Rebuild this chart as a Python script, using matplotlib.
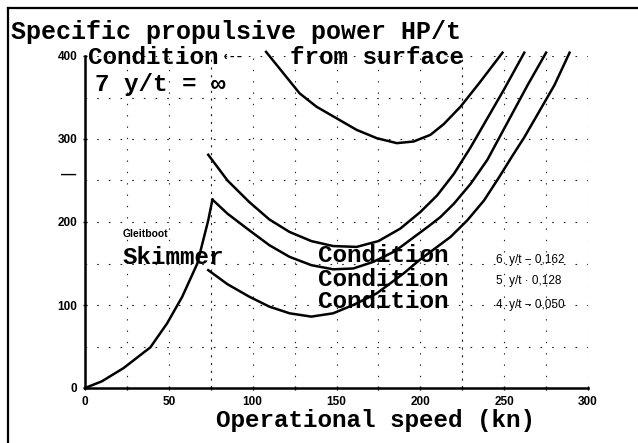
import matplotlib
matplotlib.use('Agg')
import matplotlib.pyplot as plt
from matplotlib.lines import Line2D
import numpy as np

W, H = 638, 443

# --- data ---
skimmer_x = [0, 10, 23, 39, 49, 58, 67, 73.5, 76]
skimmer_y = [0, 8, 24, 49, 78, 110, 150, 202, 227]

cond7_x = [108, 118, 128, 138, 150, 162, 174, 186, 196, 206, 214, 224, 235, 249]
cond7_y = [405, 380, 355, 339, 325, 311, 301, 295, 297, 305, 318, 339, 367, 404]

cond6_x = [73.5, 85, 98, 110, 122, 135, 148, 162, 175, 188, 200, 210, 220, 230, 240, 250, 262]
cond6_y = [281, 250, 224, 203, 188, 177, 171, 170, 177, 192, 212, 232, 258, 290, 325, 360, 404]

cond5_x = [76, 85, 98, 110, 122, 135, 148, 160, 172, 185, 195, 205, 212, 220, 230, 240, 248, 256, 264, 275]
cond5_y = [227, 210, 190, 172, 158, 148, 143, 144, 152, 165, 180, 195, 206, 222, 246, 275, 305, 335, 365, 404]

cond4_x = [73.5, 85, 98, 110, 122, 135, 148, 160, 174, 190, 200, 210, 218, 228, 238, 247, 255, 262, 270, 280, 289]
cond4_y = [142, 125, 110, 98, 90, 86, 90, 100, 114, 138, 155, 170, 182, 202, 226, 254, 280, 302, 330, 365, 404]

x_ticks = [0, 50, 100, 150, 200, 250, 300]
x_ticklabels = ['0', '50', '100', '150', '200', '250', '300']
y_ticks = [0, 100, 200, 300, 400]
y_ticklabels = ['0', '100', '200', '300', '400']

cond_labels = ['6  y/t \u2212 0,162', '5  y/t \u00b7 0,128', '4  y/t \u2212 0,050']

MONO = ['Liberation Mono', 'DejaVu Sans Mono']
SANS = ['Liberation Sans', 'DejaVu Sans']


def fx(px):
    return px / W


def fy(py):
    return 1 - py / H


fig = plt.figure(figsize=(W / 100, H / 100), dpi=100)
fig.patch.set_facecolor('white')

ax = fig.add_axes([fx(85), fy(388), (588 - 85) / W, (388 - 56) / H])
ax.set_xlim(0, 300)
ax.set_ylim(0, 400)

# grid (sparse dotted)
for gx in range(25, 301, 25):
    ls = (0, (2, 5)) if gx in (75, 225) else (0, (1.2, 9))
    ax.plot([gx, gx], [0, 400], color='#222222', lw=0.8, ls=ls, zorder=1)
for gy in range(50, 401, 50):
    ax.plot([0, 300], [gy, gy], color='#222222', lw=0.8, ls=(0, (1.5, 9)), zorder=1)

for s in ['top', 'right']:
    ax.spines[s].set_visible(False)
for s in ['left', 'bottom']:
    ax.spines[s].set_linewidth(1.8)

lw = 1.8
ax.plot(skimmer_x, skimmer_y, color='black', lw=lw, clip_on=False, zorder=3)
ax.plot(cond7_x, cond7_y, color='black', lw=lw, clip_on=False, zorder=3)
ax.plot(cond6_x, cond6_y, color='black', lw=lw, clip_on=False, zorder=3)
ax.plot(cond5_x, cond5_y, color='black', lw=lw, clip_on=False, zorder=3)
ax.plot(cond4_x, cond4_y, color='black', lw=lw, clip_on=False, zorder=3)

ax.set_xticks(x_ticks)
ax.set_xticklabels(x_ticklabels, family=SANS, fontsize=8.5, fontweight='bold')
ax.set_yticks(y_ticks)
ax.set_yticklabels(y_ticklabels, family=SANS, fontsize=8.5, fontweight='bold')
ax.tick_params(axis='both', length=3, width=1, direction='inout', pad=4)
ax.set_xticks(range(25, 300, 50), minor=True)
ax.tick_params(axis='x', which='minor', length=3, width=1, direction='inout')
ax.text(-5, 257, '\u2014', ha='right', va='center', fontsize=11, fontweight='bold',
        family=SANS)

# texts
tk = dict(family=MONO, fontweight='bold', color='black', va='center', ha='left')
fig.text(fx(11), fy(32), 'Specific propulsive power HP/t', fontsize=18, **tk)
fig.text(fx(88), fy(58), 'Condition', fontsize=17.5, **tk)
fig.text(fx(222), fy(57), '\u2039--', fontsize=9, **tk)
fig.text(fx(290), fy(58), 'from surface', fontsize=17.5, **tk)
fig.text(fx(95), fy(84), '7 y/t = \u221e', fontsize=17.5, **tk)
fig.text(fx(123), fy(257), 'Skimmer', fontsize=17.5, **tk)
fig.text(fx(318), fy(256), 'Condition', fontsize=17.5, **tk)
fig.text(fx(318), fy(280), 'Condition', fontsize=17.5, **tk)
fig.text(fx(318), fy(301), 'Condition', fontsize=17.5, **tk)
fig.text(fx(123), fy(234), 'Gleitboot', fontsize=7.5, family=SANS, fontweight='bold',
         va='center', ha='left')
for i, lab in enumerate(cond_labels):
    fig.text(fx(496), fy([260, 281, 305][i]), lab, fontsize=8.5, family=SANS,
             va='center', ha='left')
fig.text(fx(375), fy(421), 'Operational speed (kn)', fontsize=17.5, family=MONO,
         fontweight='bold', va='center', ha='center')

# outer scan border
fig.add_artist(Line2D([fx(8), fx(8)], [fy(8), 0], color='black', lw=1.6,
                      transform=fig.transFigure))
fig.add_artist(Line2D([fx(8), 1], [fy(8), fy(8)], color='black', lw=1.6,
                      transform=fig.transFigure))

fig.savefig('out.png', dpi=100, facecolor='white')
